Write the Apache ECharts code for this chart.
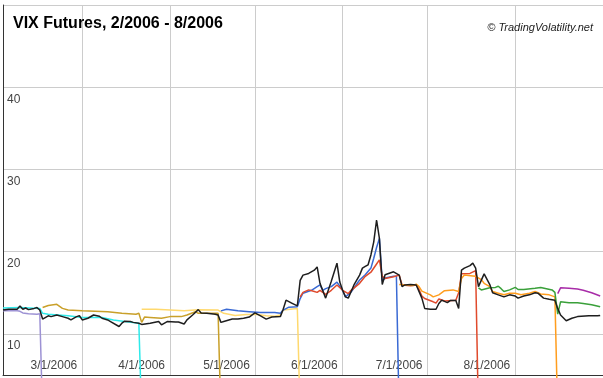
<!DOCTYPE html>
<html>
<head>
<meta charset="utf-8">
<script src="https://cdn.jsdelivr.net/npm/echarts@6/dist/echarts.min.js"></script>
<style>
html,body{margin:0;padding:0;background:#fff;overflow:hidden;width:603px;height:378px;}
#chart{width:606px;height:378px;}
</style>
</head>
<body>
<div id="chart"></div>
<script>
// ---- data ----
const chartTitle = 'VIX Futures, 2/2006 - 8/2006';
const credit = '\u00A9 TradingVolatility.net';
const xTickLabels = ['3/1/2006', '4/1/2006', '5/1/2006', '6/1/2006', '7/1/2006', '8/1/2006'];
const yTickLabels = [10, 20, 30, 40];

const vix = [
  ['2006-02-01',12.9],['2006-02-03',13.0],['2006-02-06',13.0],['2006-02-07',13.4],['2006-02-08',13.0],
  ['2006-02-09',13.15],['2006-02-10',12.95],['2006-02-12',13.1],['2006-02-13',13.2],['2006-02-14',12.9],
  ['2006-02-15',11.8],['2006-02-17',12.2],['2006-02-18',12.1],['2006-02-20',12.3],['2006-02-22',12.1],
  ['2006-02-24',11.9],['2006-02-25',11.7],['2006-02-27',12.1],['2006-02-28',12.2],['2006-03-01',11.7],
  ['2006-03-03',11.9],['2006-03-05',12.3],['2006-03-07',12.15],['2006-03-08',11.9],['2006-03-10',11.7],
  ['2006-03-11',11.5],['2006-03-14',10.9],['2006-03-15',11.3],['2006-03-16',11.55],['2006-03-18',11.5],
  ['2006-03-19',11.4],['2006-03-21',11.3],['2006-03-22',11.15],['2006-03-25',11.3],['2006-03-28',11.5],
  ['2006-03-29',11.1],['2006-03-31',11.5],['2006-04-03',11.45],['2006-04-04',11.45],['2006-04-06',11.2],
  ['2006-04-07',11.7],['2006-04-09',12.3],['2006-04-11',12.95],['2006-04-12',12.55],['2006-04-14',12.5],
  ['2006-04-17',12.4],['2006-04-18',12.3],['2006-04-19',11.4],['2006-04-20',11.5],['2006-04-23',11.8],
  ['2006-04-25',11.8],['2006-04-27',11.9],['2006-04-29',12.05],['2006-05-01',12.55],['2006-05-03',12.2],
  ['2006-05-05',11.8],['2006-05-07',12.05],['2006-05-10',12.1],['2006-05-11',13.0],['2006-05-12',14.1],
  ['2006-05-14',13.75],['2006-05-16',13.4],['2006-05-17',16.5],['2006-05-18',17.15],['2006-05-20',17.35],
  ['2006-05-22',17.75],['2006-05-23',18.15],['2006-05-24',16.15],['2006-05-26',14.35],['2006-05-28',16.4],
  ['2006-05-30',18.6],['2006-05-31',16.3],['2006-06-01',15.3],['2006-06-02',14.5],['2006-06-03',14.35],
  ['2006-06-05',15.95],['2006-06-07',17.15],['2006-06-08',18.0],['2006-06-09',18.2],['2006-06-10',18.4],
  ['2006-06-11',19.6],['2006-06-12',21.2],['2006-06-13',23.85],['2006-06-14',21.6],['2006-06-15',16.0],
  ['2006-06-16',17.2],['2006-06-19',17.55],['2006-06-21',17.15],['2006-06-22',15.75],['2006-06-23',15.95],
  ['2006-06-25',16.0],['2006-06-27',15.95],['2006-06-29',14.35],['2006-06-30',13.1],['2006-07-02',13.0],
  ['2006-07-04',13.0],['2006-07-05',13.7],['2006-07-06',14.1],['2006-07-08',13.8],['2006-07-09',14.05],
  ['2006-07-11',14.05],['2006-07-12',13.1],['2006-07-13',17.75],['2006-07-14',18.0],['2006-07-16',18.3],
  ['2006-07-17',18.6],['2006-07-18',18.0],['2006-07-19',15.75],['2006-07-21',17.3],['2006-07-23',16.0],
  ['2006-07-24',15.0],['2006-07-26',14.75],['2006-07-28',14.5],['2006-07-30',14.75],['2006-08-01',14.6],
  ['2006-08-02',14.35],['2006-08-04',14.6],['2006-08-06',14.75],['2006-08-08',15.0],['2006-08-09',14.95],
  ['2006-08-11',14.35],['2006-08-13',14.2],['2006-08-15',14.1],['2006-08-16',13.1],['2006-08-17',12.3],
  ['2006-08-19',11.6],['2006-08-21',11.9],['2006-08-23',12.1],['2006-08-27',12.2],['2006-08-30',12.2],
  ['2006-08-31',12.25]
];

const febFut = [
  ['2006-02-01',12.8],['2006-02-03',12.8],['2006-02-06',12.8],['2006-02-07',12.75],['2006-02-08',12.55],
  ['2006-02-10',12.45],['2006-02-13',12.4],['2006-02-14',12.45],['2006-02-15',0]
];
const marFut = [
  ['2006-02-01',13.15],['2006-02-07',13.2],['2006-02-14',13.1],['2006-02-15',12.5],['2006-02-17',12.4],
  ['2006-02-24',12.2],['2006-03-01',12.0],['2006-03-08',12.0],['2006-03-12',11.7],['2006-03-16',11.5],
  ['2006-03-21',11.3],['2006-03-22',0]
];
const aprFut = [
  ['2006-02-15',13.2],['2006-02-17',13.45],['2006-02-20',13.6],['2006-02-22',13.1],['2006-02-24',12.9],
  ['2006-03-01',12.8],['2006-03-10',12.7],['2006-03-15',12.5],['2006-03-20',12.4],['2006-03-21',12.5],
  ['2006-03-22',11.4],['2006-03-23',12.05],['2006-03-25',12.0],['2006-03-29',11.9],['2006-04-01',12.1],
  ['2006-04-05',12.1],['2006-04-07',12.3],['2006-04-10',12.7],['2006-04-11',12.5],['2006-04-13',12.5],
  ['2006-04-18',12.5],['2006-04-19',0]
];
const mayFut = [
  ['2006-03-22',13.0],['2006-03-27',13.0],['2006-04-01',12.9],['2006-04-06',12.8],['2006-04-11',12.95],
  ['2006-04-18',12.9],['2006-04-20',12.5],['2006-04-24',12.25],['2006-04-28',12.35],['2006-05-02',12.35],
  ['2006-05-05',12.2],['2006-05-08',12.15],['2006-05-10',12.3],['2006-05-11',12.9],['2006-05-16',13.1],
  ['2006-05-17',0]
];
const junFut = [
  ['2006-04-19',12.8],['2006-04-21',13.0],['2006-04-25',12.8],['2006-04-29',12.7],['2006-05-03',12.6],
  ['2006-05-08',12.6],['2006-05-10',12.5],['2006-05-11',12.9],['2006-05-13',13.25],['2006-05-16',13.3],
  ['2006-05-17',14.3],['2006-05-18',14.95],['2006-05-21',15.3],['2006-05-23',15.75],['2006-05-24',15.95],
  ['2006-05-25',15.3],['2006-05-26',15.5],['2006-05-28',15.75],['2006-05-30',16.3],['2006-06-01',15.3],
  ['2006-06-02',14.5],['2006-06-04',15.1],['2006-06-07',16.55],['2006-06-09',17.2],['2006-06-11',18.0],
  ['2006-06-12',19.2],['2006-06-13',20.5],['2006-06-14',21.6],['2006-06-15',16.4],['2006-06-16',16.8],
  ['2006-06-19',17.0],['2006-06-20',17.0],['2006-06-21',0]
];
const julFut = [
  ['2006-05-17',14.5],['2006-05-18',15.05],['2006-05-20',15.35],['2006-05-22',15.15],['2006-05-23',15.05],
  ['2006-05-24',15.3],['2006-05-25',15.05],['2006-05-26',14.8],['2006-05-28',15.3],['2006-05-30',15.95],
  ['2006-06-01',15.3],['2006-06-03',14.9],['2006-06-04',15.3],['2006-06-07',16.15],['2006-06-09',17.0],
  ['2006-06-11',17.5],['2006-06-13',18.5],['2006-06-14',19.0],['2006-06-15',17.0],['2006-06-16',16.75],
  ['2006-06-19',16.95],['2006-06-21',17.15],['2006-06-22',15.95],['2006-06-25',15.85],['2006-06-27',15.95],
  ['2006-06-28',15.4],['2006-06-29',14.6],['2006-06-30',14.3],['2006-07-03',13.9],['2006-07-04',13.75],
  ['2006-07-05',14.25],['2006-07-07',14.0],['2006-07-11',14.1],['2006-07-12',15.0],['2006-07-13',17.3],
  ['2006-07-16',17.35],['2006-07-18',17.7],['2006-07-19',0]
];
const augFut = [
  ['2006-06-21',16.0],['2006-06-23',15.95],['2006-06-26',15.9],['2006-06-27',16.05],['2006-06-28',15.75],
  ['2006-06-29',15.2],['2006-07-02',14.75],['2006-07-03',14.5],['2006-07-05',14.75],['2006-07-07',15.25],
  ['2006-07-10',15.35],['2006-07-12',15.15],['2006-07-13',16.75],['2006-07-14',17.15],['2006-07-17',17.05],
  ['2006-07-18',17.0],['2006-07-20',16.6],['2006-07-21',16.15],['2006-07-23',15.75],['2006-07-24',15.15],
  ['2006-07-26',14.95],['2006-07-28',14.75],['2006-07-30',14.95],['2006-08-01',14.95],['2006-08-03',14.75],
  ['2006-08-06',14.95],['2006-08-08',15.15],['2006-08-10',14.85],['2006-08-13',14.75],['2006-08-15',14.5],
  ['2006-08-16',0]
];
const sepFut = [
  ['2006-07-19',15.6],['2006-07-20',15.35],['2006-07-23',15.6],['2006-07-25',15.65],['2006-07-26',15.8],
  ['2006-07-27',15.5],['2006-07-28',15.15],['2006-07-30',15.35],['2006-08-01',15.65],['2006-08-02',15.4],
  ['2006-08-04',15.4],['2006-08-08',15.55],['2006-08-10',15.65],['2006-08-12',15.5],['2006-08-14',15.35],
  ['2006-08-15',15.05],['2006-08-16',12.4],['2006-08-17',13.9],['2006-08-20',13.8],['2006-08-23',13.8],
  ['2006-08-25',13.7],['2006-08-28',13.55],['2006-08-31',13.3]
];
const octFut = [
  ['2006-08-16',14.9],['2006-08-17',15.6],['2006-08-20',15.55],['2006-08-23',15.45],['2006-08-25',15.3],
  ['2006-08-28',15.0],['2006-08-31',14.6]
];

// ---- chart ----
const seriesDefs = [
  { name: 'Feb', data: febFut, color: '#9d92d4' },
  { name: 'Mar', data: marFut, color: '#2eeaea' },
  { name: 'Apr', data: aprFut, color: '#c9a02a' },
  { name: 'May', data: mayFut, color: '#ffd96e' },
  { name: 'Jun', data: junFut, color: '#3a6ad4' },
  { name: 'Jul', data: julFut, color: '#e04a2c' },
  { name: 'Aug', data: augFut, color: '#ff9d1e' },
  { name: 'Sep', data: sepFut, color: '#3aa03a' },
  { name: 'Oct', data: octFut, color: '#a82ca8' },
  { name: 'VIX', data: vix, color: '#1e1e1e' }
];

const chart = echarts.init(document.getElementById('chart'), null, { renderer: 'canvas' });
const DAY = 86400000;

function fmtDate(v) {
  const d = new Date(v);
  return (d.getMonth() + 1) + '/' + d.getDate() + '/' + d.getFullYear();
}

chart.setOption({
  animation: false,
  backgroundColor: '#ffffff',
  title: [
    {
      text: chartTitle, left: 13, top: 16, padding: 0,
      textStyle: { fontFamily: 'Liberation Sans, Arial, sans-serif', fontSize: 16, fontWeight: 'bold', color: '#000' }
    },
    {
      text: credit, right: 13, top: 22, padding: 0,
      textStyle: { fontFamily: 'Liberation Sans, Arial, sans-serif', fontSize: 11, fontWeight: 'normal', fontStyle: 'italic', color: '#222' }
    }
  ],
  grid: { left: 3, right: 0, top: 5, bottom: 3, containLabel: false },
  xAxis: {
    type: 'time',
    min: '2006-02-01',
    max: '2006-09-01',
    minInterval: 28 * DAY,
    maxInterval: 31 * DAY,
    axisLine: { show: true, onZero: false, lineStyle: { color: '#333', width: 1 } },
    axisTick: { show: false },
    splitLine: { show: true, lineStyle: { color: '#cccccc', width: 1 } },
    axisLabel: {
      inside: true, margin: 3, align: 'right', padding: [0, 5, 0, 0],
      showMinLabel: true, showMaxLabel: true, hideOverlap: false,
      fontFamily: 'Liberation Sans, Arial, sans-serif', fontSize: 12, color: '#444',
      formatter: function (v) { const s = fmtDate(v); return xTickLabels.indexOf(s) >= 0 ? s : ''; }
    }
  },
  yAxis: {
    type: 'value',
    min: 5,
    max: 50,
    splitNumber: 5,
    axisLine: { show: true, lineStyle: { color: '#333', width: 1 } },
    axisTick: { show: false },
    splitLine: { show: true, lineStyle: { color: '#cccccc', width: 1 } },
    axisLabel: {
      inside: true, margin: 4, align: 'left', verticalAlign: 'top', padding: [6, 0, 0, 0],
      fontFamily: 'Liberation Sans, Arial, sans-serif', fontSize: 12, color: '#444',
      formatter: function (v) { return yTickLabels.indexOf(v) >= 0 ? String(v) : ''; }
    }
  },
  series: seriesDefs.map(function (s) {
    return {
      name: s.name, type: 'line', data: s.data, showSymbol: false, symbol: 'none',
      clip: false, smooth: false,
      lineStyle: { color: s.color, width: 1.5 },
      itemStyle: { color: s.color }
    };
  })
});
</script>
</body>
</html>
